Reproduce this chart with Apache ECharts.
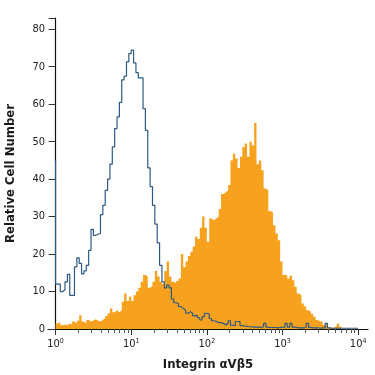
<!DOCTYPE html>
<html>
<head>
<meta charset="utf-8">
<script src="https://cdn.jsdelivr.net/npm/echarts@6/dist/echarts.min.js"></script>
<style>
  html, body { margin: 0; padding: 0; background: #fff; }
  #chart { width: 375px; height: 375px; }
</style>
</head>
<body>
<div id="chart"></div>
<script>
// histogram bins, log10 of fluorescence, 32 bins per decade starting at 10^0
var binWidth = 1 / 32;

// isotype control (blue outline); first channel is the pile-up at 10^0
var blueFirstChannel = 45;
var blueCounts = [
  12, 12, 10, 10.5, 12.6, 14.6, 9, 9, 16.6, 19,
  17.5, 14.7, 15.5, 17, 21, 26.6, 25, 25.3, 25.5, 30.5,
  33, 37, 40, 44, 48.6, 53.5, 56.6, 60.5, 66.5, 67.5,
  71.3, 73.5, 74.4, 71, 68.4, 67, 67, 58.8, 53, 43,
  38, 33, 28, 23, 17, 12.6, 11, 11.7, 11, 8,
  7, 6.8, 6, 5.5, 5, 4.2, 4.6, 4.2, 3.5, 3.7,
  3, 2.4, 3.3, 4.2, 4, 2.8, 2.2, 2, 1.7, 1.7,
  1.5, 1.1, 1.5, 2.2, 1, 0.9, 2, 2, 0.9, 0.8,
  0.7, 0.6, 0.6, 0.5, 0.5, 0.5, 0.4, 0.6, 1.5, 0.5,
  0.4, 0.4, 0.4, 0.3, 0.4, 0.5, 0.5, 1.5, 0.5, 1.5,
  0.5, 0.4, 0.3, 0.3, 0.3, 0.4, 1.5, 0.4, 0.3, 0.3,
  0.3, 0.2, 0.3, 0.3, 1.5, 0.3, 0.2, 0.2, 0.2, 0.2,
  0.2, 0.2, 0.2, 0.2, 0.2, 0.2, 0.2, 0.2
];

// Integrin aVb5 stained cells (orange fill)
var orangeCounts = [
  1.5, 1.8, 1, 1.2, 1, 1.5, 1.2, 2, 1.5, 2.2,
  3.7, 2, 1.5, 2.4, 2, 2.3, 2.6, 2.2, 2, 2.5,
  2.8, 3.5, 4.2, 5.5, 4.5, 5, 4.5, 5, 7.3, 9.5,
  7.5, 8.6, 7.5, 9, 10, 11, 12.6, 14.4, 14, 11,
  11.5, 12.6, 15.5, 14, 12.6, 12, 15.5, 18, 14, 12.6,
  12.2, 12.8, 13.5, 20, 16.5, 18, 19.5, 20.6, 22, 24.6,
  24, 27, 30, 27, 23.3, 29.5, 29, 29.5, 30, 32,
  36, 36.5, 37, 38.4, 45, 46.8, 45.5, 43, 46, 48.6,
  49.5, 46, 50, 49, 55, 44, 45, 42.4, 37.5, 37,
  31.5, 31, 27.7, 25.5, 23.7, 18, 14.4, 14.4, 13.5, 14.2,
  13, 11.3, 9.5, 9, 6.8, 6, 5, 4.6, 4, 3.3,
  2.4, 2, 2, 1.1, 1.5, 0.5, 0.3, 0.5, 0.9, 1.5,
  0.6, 0
];

var decadeTicks = [0, 1, 2, 3, 4];
var yTicks = [0, 10, 20, 30, 40, 50, 60, 70, 80];

function stepData(counts, first) {
  var res = [];
  if (first != null) res.push([0, first]);
  for (var i = 0; i < counts.length; i++) {
    res.push([i * binWidth, counts[i]]);
  }
  res.push([counts.length * binWidth, counts[counts.length - 1]]);
  return res;
}

var minorTicks = [];
for (var d = 0; d < 4; d++) {
  for (var k = 2; k <= 9; k++) minorTicks.push(d + Math.log10(k));
}

var font = "'Liberation Sans Narrow', 'DejaVu Sans Condensed', sans-serif";

var myChart = echarts.init(document.getElementById('chart'));
var option = {
  animation: false,
  grid: { left: 48, right: 7, top: 18, bottom: 46, containLabel: false, outerBoundsMode: 'none' },
  xAxis: [{
    type: 'value',
    min: -0.1,
    max: 4.13,
    position: 'bottom',
    name: 'Integrin αVβ5',
    nameLocation: 'middle',
    nameGap: 29,
    nameTextStyle: { fontFamily: font, fontWeight: 'bold', fontSize: 13, color: '#1a1a1a' },
    splitLine: { show: false },
    axisLine: { onZero: false, lineStyle: { color: '#111', width: 1.2 } },
    axisTick: { customValues: decadeTicks, length: 6, lineStyle: { color: '#333' } },
    axisLabel: {
      customValues: decadeTicks,
      margin: 9,
      formatter: function (v) { return '{b|10}{s|' + v + '}'; },
      rich: {
        b: { fontFamily: font, fontSize: 11, color: '#222' },
        s: { fontFamily: font, fontSize: 7, color: '#222', padding: [0, 0, 6, 0] }
      }
    }
  }, {
    type: 'value',
    min: -0.1,
    max: 4.13,
    position: 'bottom',
    splitLine: { show: false },
    axisLine: { show: false },
    axisTick: { customValues: minorTicks, length: 4, lineStyle: { color: '#555' } },
    axisLabel: { show: false }
  }],
  yAxis: {
    type: 'value',
    min: 0,
    max: 83,
    interval: 10,
    name: 'Relative Cell Number',
    nameLocation: 'middle',
    nameRotate: 90,
    nameGap: 31,
    nameTextStyle: { fontFamily: font, fontWeight: 'bold', fontSize: 13, color: '#1a1a1a', padding: [0, 0, 0, 0] },
    splitLine: { show: false },
    axisLine: { show: true, onZero: true, lineStyle: { color: '#111', width: 1.2 } },
    axisTick: { show: true, length: 7, lineStyle: { color: '#333' } },
    axisLabel: {
      margin: 3,
      fontFamily: font,
      fontSize: 11,
      color: '#222',
      formatter: function (v) { return yTicks.indexOf(v) >= 0 ? String(v) : ''; }
    }
  },
  series: [{
    name: 'aVb5',
    type: 'line',
    step: 'end',
    xAxisIndex: 0,
    symbol: 'none',
    lineStyle: { width: 0 },
    areaStyle: { color: '#f7a21e', opacity: 1 },
    data: stepData(orangeCounts, null),
    z: 2
  }, {
    name: 'isotype',
    type: 'line',
    step: 'end',
    xAxisIndex: 0,
    symbol: 'none',
    lineStyle: { color: '#2c5a85', width: 1.2 },
    data: stepData(blueCounts, blueFirstChannel),
    z: 3
  }]
};
myChart.setOption(option);
</script>
</body>
</html>
